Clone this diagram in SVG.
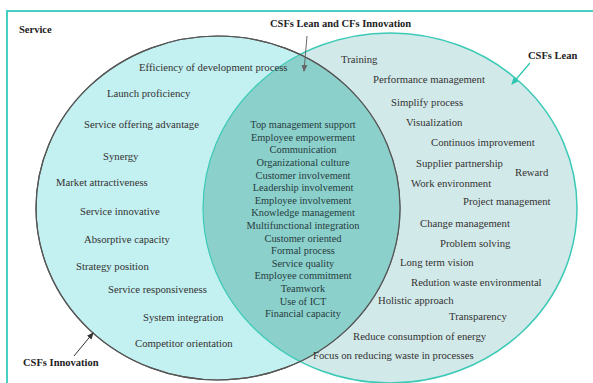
<svg xmlns="http://www.w3.org/2000/svg" width="593" height="383" viewBox="0 0 593 383">
<style>
text{font-family:"Liberation Serif","Times New Roman",serif;font-size:10.7px;fill:#333}
.b{font-weight:bold;font-size:10.5px;fill:#222}
.c{text-anchor:middle;fill:#263c3c;font-size:10.4px}
</style>
<defs>
<marker id="ag" markerWidth="7" markerHeight="7" refX="6" refY="3.5" orient="auto" markerUnits="userSpaceOnUse"><path d="M0,0.5 L7,3.5 L0,6.5 Z" fill="#666"/></marker>
<marker id="at" markerWidth="7" markerHeight="7" refX="6" refY="3.5" orient="auto" markerUnits="userSpaceOnUse"><path d="M0,0.5 L7,3.5 L0,6.5 Z" fill="#2cc4b0"/></marker>
<marker id="ad" markerWidth="7" markerHeight="7" refX="6" refY="3.5" orient="auto" markerUnits="userSpaceOnUse"><path d="M0,0.5 L7,3.5 L0,6.5 Z" fill="#333"/></marker>
<clipPath id="lc"><ellipse cx="218" cy="208" rx="182" ry="172"/></clipPath>
</defs>
<rect width="593" height="383" fill="#fff"/>
<rect x="7" y="11" width="600" height="400" fill="none" stroke="#46d0c4" stroke-width="2"/>
<g id="lean">
<ellipse cx="390" cy="208" rx="187" ry="175" fill="#d2e9e9" stroke="#3ccab6" stroke-width="1.5"/>
</g>
<g id="innovation">
<ellipse cx="218" cy="208" rx="182" ry="172" fill="#c3f0f0" stroke="#555" stroke-width="1.2"/>
</g>
<g id="overlap">
<ellipse cx="390" cy="208" rx="187" ry="175" fill="#8cd0cc" stroke="#3ccab6" stroke-width="1.2" clip-path="url(#lc)"/>
<ellipse cx="218" cy="208" rx="182" ry="172" fill="none" stroke="#555" stroke-width="1.2"/>
</g>
<g id="connectors">
<line x1="307" y1="36" x2="304" y2="71" stroke="#666" stroke-width="1" marker-end="url(#ag)"/>
<line x1="530" y1="63" x2="512" y2="84" stroke="#2cc4b0" stroke-width="1.2" marker-end="url(#at)"/>
<line x1="74" y1="356" x2="93" y2="333" stroke="#333" stroke-width="1" marker-end="url(#ad)"/>
</g>
<g id="labels">
<text class="b" x="19" y="33">Service</text>
<text class="b" x="270" y="27">CSFs Lean and CFs Innovation</text>
<text class="b" x="528" y="59">CSFs Lean</text>
<text class="b" x="23" y="366">CSFs Innovation</text>
</g>
<g id="innovation-items">
<text x="139" y="71">Efficiency of development process</text>
<text x="107" y="97">Launch proficiency</text>
<text x="84" y="128">Service offering advantage</text>
<text x="103" y="160">Synergy</text>
<text x="56" y="186">Market attractiveness</text>
<text x="80" y="215">Service innovative</text>
<text x="84" y="243">Absorptive capacity</text>
<text x="76" y="270">Strategy position</text>
<text x="108" y="293">Service responsiveness</text>
<text x="143" y="321">System integration</text>
<text x="135" y="347">Competitor orientation</text>
</g>
<g id="shared-items">
<text class="c" x="303" y="128">Top management support</text>
<text class="c" x="303" y="141">Employee empowerment</text>
<text class="c" x="303" y="153">Communication</text>
<text class="c" x="303" y="166">Organizational culture</text>
<text class="c" x="303" y="179">Customer involvement</text>
<text class="c" x="303" y="191">Leadership involvement</text>
<text class="c" x="303" y="204">Employee involvement</text>
<text class="c" x="303" y="216">Knowledge management</text>
<text class="c" x="303" y="229">Multifunctional integration</text>
<text class="c" x="303" y="242">Customer oriented</text>
<text class="c" x="303" y="254">Formal process</text>
<text class="c" x="303" y="267">Service quality</text>
<text class="c" x="303" y="279">Employee commitment</text>
<text class="c" x="303" y="292">Teamwork</text>
<text class="c" x="303" y="305">Use of ICT</text>
<text class="c" x="303" y="317">Financial capacity</text>
</g>
<g id="lean-items">
<text x="341" y="63">Training</text>
<text x="373" y="83">Performance management</text>
<text x="391" y="106">Simplify process</text>
<text x="406" y="126">Visualization</text>
<text x="431" y="146">Continuos improvement</text>
<text x="416" y="167">Supplier partnership</text>
<text x="515" y="176">Reward</text>
<text x="411" y="187">Work environment</text>
<text x="463" y="205">Project management</text>
<text x="420" y="227">Change management</text>
<text x="440" y="247">Problem solving</text>
<text x="400" y="266">Long term vision</text>
<text x="411" y="286">Redution waste environmental</text>
<text x="378" y="304">Holistic approach</text>
<text x="449" y="320">Transparency</text>
<text x="353" y="340">Reduce consumption of energy</text>
<text x="313" y="359">Focus on reducing waste in processes</text>
</g>
</svg>
